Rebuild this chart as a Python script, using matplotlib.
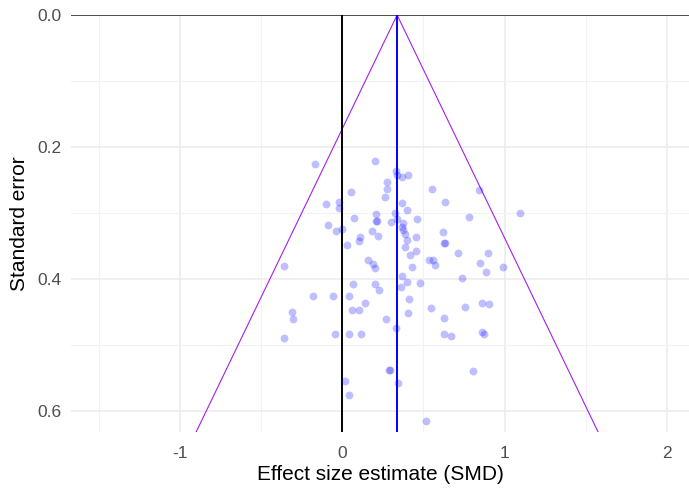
import numpy as np
import matplotlib
matplotlib.use("Agg")
import matplotlib.pyplot as plt
from matplotlib.ticker import MultipleLocator

# -------------------- DATA --------------------
# effect size estimates (SMD) for each study
effect_size = [
    -0.168, 0.200, 0.332, 0.336, 0.367, 0.407, 0.274, 0.274, 0.262, 0.056,
    -0.100, -0.022, -0.022, 0.208, 0.210, 0.216, 0.075, 0.299, 0.322, 0.337,
    -0.088, -0.038, -0.001, 0.184, 0.219, 0.110, 0.105, 0.028, 0.551, 0.843,
    0.636, 0.371, 0.401, 1.094, 0.460, 0.782, 0.377, 0.367, 0.377, 0.384,
    0.398, 0.387, 0.618, 0.455, 0.625, 0.634, 0.454, 0.418, 0.714, 0.896,
    0.533, 0.558, 0.572, 0.848, 0.430, 0.883, 0.993, -0.360, 0.157, 0.189,
    0.202, 0.739, 0.371, 0.400, 0.363, 0.480, 0.068, 0.201, 0.225, -0.180,
    -0.059, 0.039, 0.141, 0.062, 0.104, 0.412, 0.407, 0.546, 0.756, 0.861,
    0.902, -0.311, -0.305, 0.268, 0.629, 0.334, -0.362, -0.046, 0.039, 0.116,
    0.629, 0.671, 0.860, 0.874, 0.289, 0.293, 0.805, 0.014, 0.341, 0.039,
    0.515,
]

# standard error for each study
std_error = [
    0.226, 0.222, 0.236, 0.242, 0.245, 0.243, 0.253, 0.263, 0.276, 0.269,
    0.286, 0.283, 0.292, 0.301, 0.312, 0.312, 0.308, 0.314, 0.300, 0.309,
    0.319, 0.328, 0.324, 0.328, 0.335, 0.337, 0.343, 0.348, 0.263, 0.265,
    0.284, 0.285, 0.295, 0.300, 0.309, 0.306, 0.315, 0.322, 0.326, 0.332,
    0.341, 0.351, 0.329, 0.337, 0.346, 0.346, 0.357, 0.363, 0.360, 0.361,
    0.371, 0.371, 0.379, 0.376, 0.382, 0.389, 0.382, 0.380, 0.371, 0.378,
    0.384, 0.398, 0.395, 0.405, 0.412, 0.406, 0.407, 0.408, 0.417, 0.426,
    0.426, 0.426, 0.436, 0.447, 0.447, 0.431, 0.452, 0.444, 0.442, 0.436,
    0.438, 0.450, 0.461, 0.460, 0.459, 0.474, 0.489, 0.484, 0.484, 0.484,
    0.484, 0.486, 0.481, 0.483, 0.538, 0.538, 0.539, 0.554, 0.558, 0.576,
    0.615,
]

# pooled estimate (blue line) and the 95% funnel
pooled_estimate = 0.338
funnel_se = [0.0, 0.7]

x_ticks = [-1, 0, 1, 2]
y_ticks = [0.0, 0.2, 0.4, 0.6]
y_tick_labels = ["0.0", "0.2", "0.4", "0.6"]


# -------------------- PLOT --------------------
plt.rcParams["font.family"] = ["Liberation Sans", "DejaVu Sans"]

fig = plt.figure(figsize=(6.89, 4.88), dpi=100)
ax = fig.add_axes([71 / 689, 56 / 488, 618 / 689, 417 / 488])

# grid like ggplot theme_minimal
ax.set_axisbelow(True)
ax.xaxis.set_minor_locator(MultipleLocator(0.5))
ax.yaxis.set_minor_locator(MultipleLocator(0.1))
ax.grid(which="major", color="#EBEBEB", linewidth=1.1)
ax.grid(which="minor", color="#F2F2F2", linewidth=0.8)
for side in ax.spines.values():
    side.set_visible(False)

# funnel lines
se = np.array(funnel_se)
ax.plot(pooled_estimate - 1.96 * se, se, color="#A020F0", linewidth=0.8)
ax.plot(pooled_estimate + 1.96 * se, se, color="#A020F0", linewidth=0.8)

ax.axhline(0, color="#222222", linewidth=1.1)
ax.axvline(0, color="black", linewidth=1.4)
ax.axvline(pooled_estimate, color="blue", linewidth=1.4)

ax.scatter(effect_size, std_error, s=32, color="blue", alpha=0.25,
           linewidths=0, zorder=3)

ax.set_xlim(-1.672, 2.137)
ax.set_ylim(0.632, 0.0)
ax.set_xticks(x_ticks)
ax.set_xticklabels([str(t) for t in x_ticks])
ax.set_yticks(y_ticks)
ax.set_yticklabels(y_tick_labels)

ax.tick_params(which="both", length=0)
ax.tick_params(axis="x", labelsize=12.5, labelcolor="#4D4D4D", pad=10)
ax.tick_params(axis="y", labelsize=12.5, labelcolor="#4D4D4D", pad=7)

ax.set_xlabel("Effect size estimate (SMD)", fontsize=15, labelpad=3)
ax.set_ylabel("Standard error", fontsize=15, labelpad=6)

plt.savefig("out.png", dpi=100)
